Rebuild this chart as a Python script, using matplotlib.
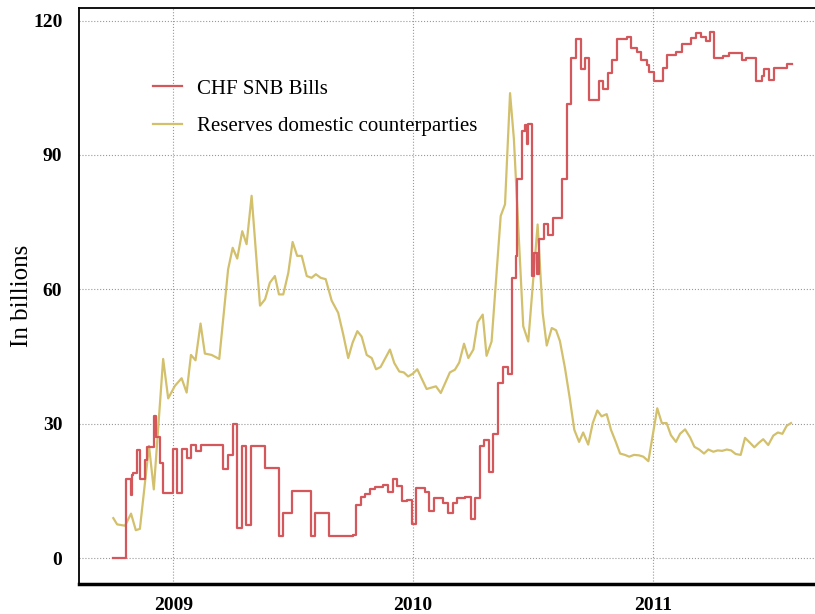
import numpy as np
import matplotlib.pyplot as plt

# CHF SNB Bills (step changes: year, bn CHF)
bills_year = [2008.750, 2008.803, 2008.822, 2008.828, 2008.833, 2008.850, 2008.861, 2008.882,
              2008.889, 2008.919, 2008.928, 2008.945, 2008.958, 2009.000, 2009.017, 2009.035,
              2009.056, 2009.074, 2009.095, 2009.114, 2009.209, 2009.227, 2009.248, 2009.264,
              2009.285, 2009.303, 2009.324, 2009.383, 2009.440, 2009.456, 2009.496, 2009.573,
              2009.592, 2009.648, 2009.748, 2009.762, 2009.782, 2009.800, 2009.821, 2009.841,
              2009.876, 2009.897, 2009.915, 2009.935, 2009.953, 2009.974, 2009.995, 2010.013,
              2010.050, 2010.068, 2010.089, 2010.126, 2010.145, 2010.166, 2010.185, 2010.217,
              2010.241, 2010.259, 2010.280, 2010.297, 2010.318, 2010.335, 2010.356, 2010.377,
              2010.395, 2010.414, 2010.428, 2010.435, 2010.453, 2010.467, 2010.474, 2010.481,
              2010.495, 2010.506, 2010.516, 2010.526, 2010.547, 2010.564, 2010.583, 2010.620,
              2010.641, 2010.659, 2010.679, 2010.700, 2010.718, 2010.736, 2010.776, 2010.794,
              2010.815, 2010.831, 2010.850, 2010.892, 2010.909, 2010.936, 2010.950, 2010.977,
              2010.986, 2011.005, 2011.044, 2011.061, 2011.097, 2011.121, 2011.159, 2011.181,
              2011.200, 2011.221, 2011.239, 2011.256, 2011.295, 2011.320, 2011.371, 2011.389,
              2011.430, 2011.455, 2011.464, 2011.486, 2011.506, 2011.562, 2011.580]
bills = [0, 17.8, 14.1, 18.6, 19.0, 24.3, 17.8, 21.9,
         24.8, 31.8, 27.2, 21.2, 14.5, 24.5, 14.5, 24.5,
         22.5, 25.3, 24.0, 25.3, 19.9, 23.1, 30.0, 6.8,
         25.1, 7.4, 25.1, 20.1, 4.9, 10.1, 15.1, 4.9,
         10.1, 4.9, 5.3, 12.0, 13.6, 14.3, 15.6, 16.0,
         16.3, 14.8, 17.8, 16.1, 12.8, 13.1, 7.6, 15.8,
         14.8, 10.6, 13.4, 12.4, 10.1, 12.4, 13.4, 13.7,
         8.9, 13.4, 25.1, 26.4, 19.3, 27.8, 39.2, 42.7,
         41.2, 62.6, 67.5, 84.6, 95.4, 96.6, 92.5, 96.9,
         63.0, 68.2, 63.4, 71.2, 74.5, 72.1, 76.0, 84.6,
         101.4, 111.6, 115.8, 109.1, 111.6, 102.2, 106.4, 104.8,
         108.3, 111.1, 115.8, 116.3, 113.9, 113.0, 111.1, 110.1,
         108.5, 106.4, 109.5, 112.4, 113.0, 114.8, 116.0, 117.2,
         116.3, 115.4, 117.5, 111.6, 112.1, 112.8, 111.1, 111.7,
         106.6, 107.6, 109.1, 106.8, 109.4, 110.4, 110.4]

# Reserves of domestic counterparties (weekly, bn CHF)
res_year = [2008.750, 2008.766, 2008.799, 2008.824, 2008.844, 2008.861, 2008.899, 2008.919,
            2008.958, 2008.979, 2009.007, 2009.035, 2009.056, 2009.074, 2009.093, 2009.114,
            2009.132, 2009.160, 2009.192, 2009.229, 2009.248, 2009.267, 2009.288, 2009.306,
            2009.327, 2009.362, 2009.383, 2009.403, 2009.424, 2009.441, 2009.459, 2009.480,
            2009.498, 2009.517, 2009.536, 2009.557, 2009.577, 2009.595, 2009.615, 2009.636,
            2009.661, 2009.688, 2009.709, 2009.730, 2009.748, 2009.768, 2009.786, 2009.807,
            2009.828, 2009.846, 2009.865, 2009.904, 2009.922, 2009.943, 2009.962, 2009.980,
            2009.999, 2010.018, 2010.057, 2010.096, 2010.116, 2010.154, 2010.175, 2010.193,
            2010.213, 2010.231, 2010.252, 2010.270, 2010.291, 2010.307, 2010.328, 2010.366,
            2010.384, 2010.405, 2010.421, 2010.460, 2010.481, 2010.520, 2010.541, 2010.558,
            2010.579, 2010.597, 2010.613, 2010.634, 2010.653, 2010.673, 2010.693, 2010.710,
            2010.731, 2010.750, 2010.769, 2010.787, 2010.808, 2010.826, 2010.846, 2010.864,
            2010.884, 2010.902, 2010.922, 2010.943, 2010.961, 2010.982, 2011.019, 2011.038,
            2011.058, 2011.076, 2011.097, 2011.114, 2011.135, 2011.156, 2011.174, 2011.194,
            2011.214, 2011.232, 2011.253, 2011.271, 2011.290, 2011.309, 2011.327, 2011.346,
            2011.367, 2011.385, 2011.406, 2011.424, 2011.443, 2011.461, 2011.482, 2011.503,
            2011.522, 2011.541, 2011.559, 2011.577]
reserves = [9.0, 7.6, 7.3, 10.0, 6.3, 6.6, 25.1, 15.4,
            44.5, 35.7, 38.5, 40.2, 37.0, 45.4, 44.2, 52.4,
            45.7, 45.4, 44.5, 64.5, 69.3, 66.9, 73.0, 70.1,
            80.9, 56.4, 57.8, 61.5, 63.0, 58.9, 58.9, 63.7,
            70.6, 67.5, 67.5, 63.0, 62.6, 63.4, 62.6, 62.3,
            57.5, 54.8, 50.0, 44.7, 48.1, 50.7, 49.5, 45.4,
            44.7, 42.2, 42.7, 46.6, 43.6, 41.7, 41.5, 40.6,
            41.2, 42.2, 37.8, 38.4, 36.9, 41.5, 42.1, 43.7,
            47.9, 44.7, 46.6, 52.7, 54.4, 45.2, 48.4, 76.4,
            79.0, 103.8, 93.6, 51.8, 48.4, 74.5, 54.8, 47.5,
            51.4, 50.9, 48.5, 42.5, 36.1, 28.7, 26.0, 28.1,
            25.4, 30.2, 33.0, 31.7, 32.2, 28.7, 26.0, 23.4,
            23.1, 22.7, 23.1, 23.0, 22.7, 21.7, 33.5, 30.2,
            30.2, 27.5, 26.0, 27.8, 28.8, 27.0, 24.9, 24.3,
            23.4, 24.3, 23.8, 24.1, 24.0, 24.3, 24.1, 23.3,
            23.1, 26.9, 25.8, 24.8, 25.8, 26.6, 25.3, 27.4,
            28.1, 27.8, 29.6, 30.2]

years = [2009, 2010, 2011]
yticks = [0, 30, 60, 90, 120]

red = '#d4575c'
gold = '#d3c06c'
serif = ['Liberation Serif', 'DejaVu Serif']

fig = plt.figure(figsize=(8.15, 6.14), dpi=100)
ax = fig.add_axes([79 / 815, 1 - 584 / 614, 736 / 815, 576.5 / 614])

ax.plot(bills_year, bills, color=red, lw=1.6, drawstyle='steps-post',
        label='CHF SNB Bills', zorder=3)
ax.plot(res_year, reserves, color=gold, lw=1.6,
        label='Reserves domestic counterparties', zorder=2)

ax.set_xlim(2008.607, 2011.677)
ax.set_ylim(-5.7, 122.9)
ax.set_xticks(years)
ax.set_xticklabels([str(y) for y in years], fontfamily=serif, fontweight='bold', fontsize=14)
ax.set_yticks(yticks)
ax.set_yticklabels([str(v) for v in yticks], fontfamily=serif, fontweight='bold', fontsize=14)
ax.tick_params(axis='y', length=0, pad=12)
ax.tick_params(axis='x', length=0, pad=9)
ax.grid(True, color='#999999', linestyle=':', linewidth=0.8)
ax.set_axisbelow(True)

ax.set_ylabel('In billions', fontfamily=serif, fontsize=18)
ax.yaxis.set_label_coords(-0.063, 0.5)

ax.spines['right'].set_visible(False)
ax.spines['left'].set_linewidth(1.3)
ax.spines['top'].set_linewidth(1.3)
ax.spines['bottom'].set_linewidth(2.5)

ax.legend(loc='upper left', bbox_to_anchor=(0.1, 0.876), frameon=False,
          borderpad=0, borderaxespad=0, handlelength=1.4, handletextpad=0.72,
          labelspacing=0.85, prop={'family': serif, 'size': 15})

fig.savefig('out.png', dpi=100)
